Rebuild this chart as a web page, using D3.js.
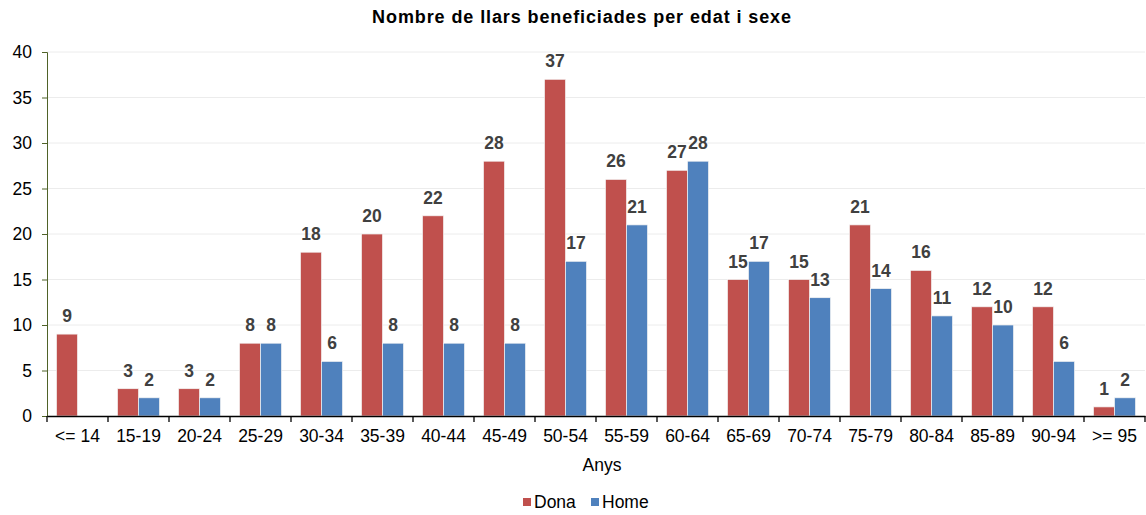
<!DOCTYPE html>
<html>
<head>
<meta charset="utf-8">
<script src="https://cdn.jsdelivr.net/npm/d3@7"></script>
<style>
  body { margin: 0; background: #fff; }
  text { font-family: "Liberation Sans", Arial, sans-serif; }
</style>
</head>
<body>
<div id="chart"></div>
<script>
// data
var categories = ["<= 14", "15-19", "20-24", "25-29", "30-34", "35-39", "40-44", "45-49", "50-54",
  "55-59", "60-64", "65-69", "70-74", "75-79", "80-84", "85-89", "90-94", ">= 95"];
var dona = [9, 3, 3, 8, 18, 20, 22, 28, 37, 26, 27, 15, 15, 21, 16, 12, 12, 1];
var home = [null, 2, 2, 8, 6, 8, 8, 8, 17, 21, 28, 17, 13, 14, 11, 10, 6, 2];
var seriesNames = ["Dona", "Home"];
var yTicks = [0, 5, 10, 15, 20, 25, 30, 35, 40];

var colors = {Dona: "#C0504D", Home: "#4F81BD"};

var W = 1146, H = 515;
var margin = {top: 52, right: 1, bottom: 99, left: 47};
var width = W - margin.left - margin.right,
    height = H - margin.top - margin.bottom;

var svg = d3.select("#chart").append("svg")
  .attr("width", W).attr("height", H);

// title
svg.append("text")
  .attr("x", 582).attr("y", 23)
  .attr("text-anchor", "middle")
  .attr("font-size", "18px").attr("font-weight", "bold")
  .attr("letter-spacing", "0.9px")
  .attr("fill", "#000")
  .text("Nombre de llars beneficiades per edat i sexe");

var g = svg.append("g")
  .attr("transform", "translate(" + margin.left + "," + margin.top + ")");

var x = d3.scaleBand().domain(categories).range([0, width]).paddingInner(0).paddingOuter(0);
var x1 = d3.scaleBand().domain(seriesNames).range([0, 42]);
var y = d3.scaleLinear().domain([0, 40]).range([height, 0]);

// gridlines
g.selectAll("line.grid")
  .data(yTicks.filter(function(d) { return d > 0; }))
  .enter().append("line")
    .attr("class", "grid")
    .attr("x1", 0).attr("x2", width)
    .attr("y1", function(d) { return y(d); })
    .attr("y2", function(d) { return y(d); })
    .attr("stroke", "#ececec").attr("stroke-width", 1);

var rows = categories.map(function(c, i) {
  return {cat: c, values: [{s: "Dona", v: dona[i]}, {s: "Home", v: home[i]}]};
});

var groups = g.selectAll("g.cat")
  .data(rows)
  .enter().append("g")
    .attr("class", "cat")
    .attr("transform", function(d) { return "translate(" + (x(d.cat) + (x.bandwidth() - 42) / 2) + ",0)"; });

groups.selectAll("rect")
  .data(function(d) { return d.values.filter(function(e) { return e.v != null; }); })
  .enter().append("rect")
    .attr("x", function(d) { return x1(d.s); })
    .attr("y", function(d) { return y(d.v); })
    .attr("width", x1.bandwidth())
    .attr("height", function(d) { return height - y(d.v); })
    .attr("fill", function(d) { return colors[d.s]; })
    .attr("stroke", "#f4f4f4").attr("stroke-width", 0.7);

groups.selectAll("text")
  .data(function(d) { return d.values.filter(function(e) { return e.v != null; }); })
  .enter().append("text")
    .attr("x", function(d) { return x1(d.s) + x1.bandwidth() / 2; })
    .attr("y", function(d) { return y(d.v) - 12; })
    .attr("text-anchor", "middle")
    .attr("font-size", "17.5px").attr("font-weight", "bold")
    .attr("fill", "#404040")
    .text(function(d) { return d.v; });

// y axis
var yAxis = g.append("g")
  .call(d3.axisLeft(y).tickValues(yTicks).tickSize(5).tickPadding(10));
yAxis.select(".domain").attr("stroke", "#4F6228");
yAxis.selectAll(".tick line").attr("stroke", "#4F6228");
yAxis.selectAll(".tick text").attr("font-size", "17.5px").attr("fill", "#000")
  .attr("font-family", "Liberation Sans, Arial, sans-serif");

// x axis
var xAxis = g.append("g")
  .attr("transform", "translate(0," + height + ")")
  .call(d3.axisBottom(x).tickSize(0).tickPadding(14));
xAxis.select(".domain").attr("stroke", "#000").attr("stroke-width", 1.3);
xAxis.selectAll(".tick text").attr("font-size", "17.5px").attr("fill", "#000")
  .attr("font-family", "Liberation Sans, Arial, sans-serif");
// boundary ticks between categories
xAxis.selectAll("line.bound")
  .data(categories.concat(["end"]))
  .enter().append("line")
    .attr("class", "bound")
    .attr("x1", function(d, i) { return i * x.step(); })
    .attr("x2", function(d, i) { return i * x.step(); })
    .attr("y1", 0).attr("y2", 6)
    .attr("stroke", "#000").attr("stroke-width", 1.3);

// axis title
svg.append("text")
  .attr("x", 602).attr("y", 471)
  .attr("text-anchor", "middle")
  .attr("font-size", "17.5px").attr("fill", "#000")
  .text("Anys");

// legend
var legend = svg.append("g").attr("transform", "translate(523,498)");
var li = legend.selectAll("g")
  .data(seriesNames)
  .enter().append("g")
    .attr("transform", function(d, i) { return "translate(" + (i * 68) + ",0)"; });
li.append("rect")
  .attr("width", 8).attr("height", 8)
  .attr("fill", function(d) { return colors[d]; });
li.append("text")
  .attr("x", 11).attr("y", 10)
  .attr("font-size", "17.5px").attr("fill", "#000")
  .text(function(d) { return d; });
</script>
</body>
</html>
